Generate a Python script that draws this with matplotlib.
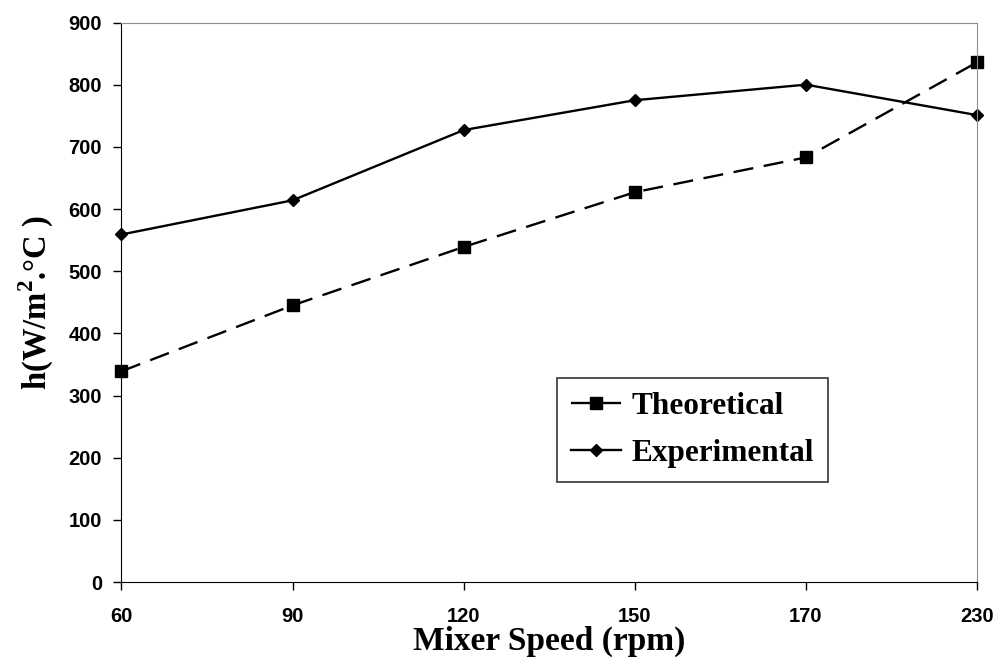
import matplotlib
matplotlib.use("Agg")
import matplotlib.pyplot as plt
import numpy as np

speeds = ["60", "90", "120", "150", "170", "230"]
theoretical = [339, 445, 539, 627, 683, 836]
experimental = [559, 614, 727, 775, 800, 751]

plt.rcParams["mathtext.fontset"] = "custom"
plt.rcParams["mathtext.rm"] = "Liberation Serif:bold"
plt.rcParams["mathtext.bf"] = "Liberation Serif:bold"

fig = plt.figure(figsize=(9.95, 6.58), dpi=100)
ax = fig.add_axes([0.1221, 0.1155, 0.8599, 0.8503])

x = np.arange(len(speeds))
ax.plot(x, theoretical, color="black", lw=1.7, dashes=(8.5, 4.5),
        marker="s", markersize=8, label="Theoretical", clip_on=False)
ax.plot(x, experimental, color="black", lw=1.7,
        marker="D", markersize=6.5, label="Experimental", clip_on=False)

ax.set_xlim(0, len(speeds) - 1)
ax.set_ylim(0, 900)
ax.set_xticks(x)
ax.set_xticklabels(speeds)
ax.set_yticks(range(0, 901, 100))

for lab in ax.get_xticklabels() + ax.get_yticklabels():
    lab.set_fontfamily("Liberation Sans")
    lab.set_fontweight("bold")
    lab.set_fontsize(14.5)
ax.tick_params(direction="out", length=6, width=1, color="black")
ax.tick_params(axis="x", pad=12)
ax.tick_params(axis="y", pad=8)

ax.spines["left"].set_color("black")
ax.spines["bottom"].set_color("black")
ax.spines["top"].set_color("#909090")
ax.spines["right"].set_color("#909090")

ax.set_xlabel("Mixer Speed (rpm)", fontfamily="Liberation Serif",
              fontweight="bold", fontsize=24, labelpad=0)
ax.set_ylabel("h(W/m$^{2}$.°C )", fontfamily="Liberation Serif",
              fontweight="bold", fontsize=23.5, labelpad=9)

leg = ax.legend(loc="center", bbox_to_anchor=(0.6675, 0.2717), borderaxespad=0,
                frameon=True, fancybox=False, edgecolor="black", handlelength=1.6,
                handletextpad=0.33, borderpad=0.45, labelspacing=0.6,
                prop={"family": "Liberation Serif", "weight": "bold", "size": 22.5})
leg.get_frame().set_linewidth(1.2)

fig.savefig("out.png", dpi=100)
